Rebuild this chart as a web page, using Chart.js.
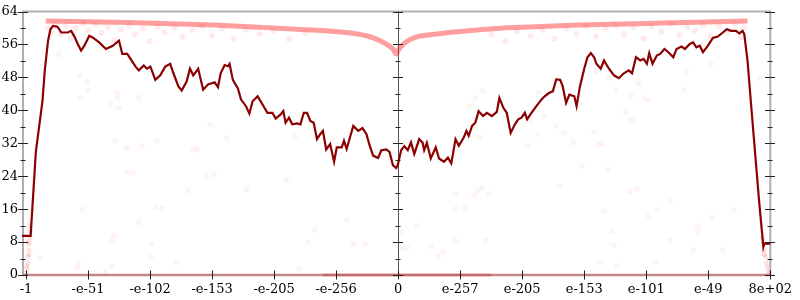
<!DOCTYPE html>
<html><head><meta charset="utf-8">
<script src="https://cdn.jsdelivr.net/npm/chart.js@4.4.0/dist/chart.umd.min.js"></script>
<style>html,body{margin:0;padding:0;background:#fff}canvas{display:block}</style>
</head><body>
<canvas id="c" width="800" height="300"></canvas>
<script>
// tick labels of the x axis (12 equal intervals)
const xTickLabels = ['-1','-e-51','-e-102','-e-153','-e-205','-e-256','0','e-257','e-205','e-153','e-101','e-49','8e+02'];
const xSpan = 752;

// main (dark red) line: [x position, value]
const mainLine = [
[-4,9.5],[4.7,9.5],[10,30],[16.7,42.3],[19,49.7],[22.3,56.9],[24.7,59.7],[27.3,60.5],[31.7,60.3],[35.7,58.9],[42.3,58.9],[45.7,59.3],[49,57.9],[52.3,56.1],[55.7,54.5],[59,55.7],[64,58.1],[67.3,57.7],[74,56.5],[80.7,54.9],[87.3,55.6],[94,56.9],[97.3,53.7],[102.3,53.7],[105.7,52.5],[110.7,50.6],[114,49.7],[119,50.9],[122.3,50.1],[125.7,50.6],[130.7,47.4],[135.7,48.5],[140.7,50.6],[145.7,51.3],[149,49],[154,45.8],[157.3,44.8],[162.3,47],[165.7,50.1],[169,48.5],[174,50.1],[179,45],[184,46.3],[190.7,46.8],[194,45.6],[196.7,49],[200.7,51],[204,50.7],[205.7,51.3],[209,47.4],[214,45.4],[217.3,42.6],[222.3,41],[225.7,39.2],[229,42.2],[234,43.4],[239,41.4],[244,39.4],[249,39.4],[252.3,38],[257.3,39],[260,39.8],[262.3,37],[265.7,38.2],[269,36.6],[274,36.8],[277.3,36.6],[280.7,39.4],[284,39.4],[287.3,37.4],[290.7,37],[294,33],[297.3,34.2],[300,35],[303.3,30.5],[307.3,31.8],[311.3,27.5],[314,31],[319,31],[321.3,32.6],[324,30.6],[327.3,33.4],[330.7,36.2],[335.7,35],[340,35.7],[344,34.2],[347.3,31.4],[350.7,29],[355.7,28.4],[359,30.3],[364,30.5],[367.3,29.9],[370.7,26.7],[374,26],[375.7,26.7],[379,30.3],[382.3,31.3],[385.7,30.3],[389,32.2],[392.3,29.4],[397.3,33],[400.7,32.2],[402.3,30.3],[405,32.1],[409,28.3],[414,31],[417.3,28.3],[422.3,27.5],[426.3,28.5],[429.7,27.1],[434,33],[437.3,31.4],[442.3,33.4],[445,35],[447.3,33.8],[450.7,36.2],[454,37],[457.3,39.8],[461.7,38.6],[465.7,39.4],[470.7,38.6],[475.7,39.6],[478.3,43],[482.3,40.6],[485.7,39.4],[489.7,34.5],[494,36.6],[497.3,37.8],[500.7,38.2],[504,39.4],[506.3,37.8],[510.7,39.4],[515.7,41],[520.7,42.6],[524,43.4],[528.3,44.2],[532.3,44.6],[535.7,47.5],[539.7,47.4],[542.3,45.8],[545.7,41.8],[549,43.8],[554,43.4],[556.3,41],[559.7,45.8],[564,50.1],[567.3,52.9],[570.7,53.9],[574,52.9],[576.3,51.3],[580.7,50.1],[584,52.1],[589,50.1],[594,48.5],[599,47.8],[604,49],[609,49.7],[612.3,49],[616.3,52.9],[620.7,52.1],[624,52.5],[627.3,51.3],[629.7,53.9],[633,51.3],[637.3,53.3],[640.7,53.7],[645,54.9],[649,54.1],[654,52.9],[657.3,54.9],[662.3,55.5],[665.7,54.9],[670.7,56.1],[674,56.5],[677.3,55.3],[680.7,55.7],[684,54.1],[689,55.7],[694,57.6],[699,57.9],[704,58.9],[708,59.7],[712.3,59.3],[717.3,59.3],[720.7,58.7],[724,59.3],[725.7,58.5],[729,52.1],[732.3,42.2],[740.7,17.9],[745,6.8],[746,7.6],[752,7.6]
];

// dense band of points near the top
const bandLine = [
[20,61.7],[104,61.3],[189,60.7],[234,60.2],[274,59.7],[324,58.9],[344,58.1],[354,57.3],[364,56.1],[370.7,54.9],[374,53.7],[377,54.9],[384,56.6],[394,57.8],[414,58.5],[441,59.2],[474,59.9],[514,60.3],[559,60.7],[644,61.2],[729,61.7]
];

// fuzz just under the band
const fuzzPoints = [
[22,60],[26,59],[30,61],[35,58.5],[40,60.5],[45,57.5],[50,60],[58,61],[63,59.5],[70,60.8],[76,58.8],[83,60.2],[90,57],[96,59.6],[104,60.6],[110,58.4],[118,59.9],[125,56.8],[133,60.3],[140,58.9],[150,60.1],[158,57.9],[168,59.5],[178,60.3],[188,58.2],[198,59.8],[210,57.4],[222,59.6],[236,58.6],[250,59.2],[266,57.2],[282,58.8],
[470,58.4],[484,56.8],[496,59.2],[510,58.1],[522,59.5],[534,57.4],[546,59.9],[556,58.6],[566,60.3],[576,57.9],[586,59.8],[596,60.6],[604,58.4],[614,60.1],[624,57.5],[632,60.4],[642,59.1],[652,61],[660,58.3],[668,60.2],[676,59.3],[684,60.7],[692,58],[700,60.4],[708,59],[716,61],[722,57.8],[726,60.2]
];

// sparse scattered points
const scatterPoints = [
[92,44.2],[114,43.2],[94,40.6],[90,32.5],[102,30.8],[117,31.3],[132,32.5],[169,30.3],[173,30.6],[186,36.5],[203,33.2],[102,25.1],[108,24.8],[182,24.1],[190,24.4],[164,20.5],[223,20.8],[263,23.2],[272,33.7],
[454,43],[448,41.1],[461,44.7],[518,44.4],[510,37.5],[458,33.4],[524,38.7],[536,36.1],[517,34.1],[544,34.4],[574,34.6],[606,39.6],[582,32],[578,31.5],[596,44.7],[612,37.7],[553,32.2],[507,31.5],[456,20.3],[460,21],[453,19.3],[468,19.6],[434,19.6],[539,21.5],[562,26.5],[588,25.6],[610,20.3],[617,20.8],
[324,13.4],[292,11],[285,7.9],[331,7.6],[343,7.4],[379,10.3],[395,11.9],[380,6.4],[385,6.7],[409,6.9],[422,5.7],[417,4.5],[434,8.4],[464,8.4],[435,16.2],[444,16.2],[276,1.4],
[57,16],[132,16.5],[138,16.2],[87,2.1],[53,2.9],[52,1.7],[89,9.6],[87,8.4],[14,4.1],[126,4.3],[152,3.1],[127,7.6],[114,12.7],[80,0.7],
[651,17.9],[629,14.3],[592,10.7],[594,7.2],[636,3.1],[679,11.9],[650,8.4],[637,15.8],[584,15.5],[580,2.9],[597,2.1],[674,6],[715,15.8],[744,16.5],[693,13.9],[704,6],[679,10.5],
[33,53.5],[54,48.5],[62,44.9],[55,43],[92,43],[85,41.8],[62,46.8],
[692,51.3],[667,49.4],[665,44.9],[619,46.6],[624,43],[589,47.8],[576,49.4],[611,43.7],[629,42.5],[684,56.1],[742,47.8]
];

// smears at both ends, near zero
const edgePoints = [
[0,0.5],[1,1.5],[2,3],[2,4.5],[3,6],[3,7.5],[4,9],[5,10.5],[4,12],[1,2.2],[3,5],[2,8],
[744,9],[745,7.5],[746,6],[747,4.5],[748,3],[749,2],[750,1],[751,0.5],[746,5],[745,8.2]
];

// points lying on zero
const zeroLine = [[-3,0],[752,0]];
const zeroCore = [[300,0],[470,0]];

const pts = a => a.map(([x,y]) => ({x, y}));

const axesPlugin = {
  id: 'axesDeco',
  beforeDatasetsDraw(chart) {
    const {ctx, chartArea: a, scales: {x}} = chart;
    ctx.save();
    ctx.strokeStyle = '#b0b0b0';
    ctx.lineWidth = 2;
    ctx.strokeRect(a.left, a.top, a.right - a.left, a.bottom - a.top);
    const xc = Math.round(x.getPixelForValue(xSpan / 2)) + 0.5;
    ctx.strokeStyle = '#555';
    ctx.lineWidth = 1;
    ctx.beginPath(); ctx.moveTo(xc, a.top); ctx.lineTo(xc, a.bottom); ctx.stroke();
    ctx.restore();
  },
  afterDatasetsDraw(chart) {
    const {ctx, chartArea: a, scales: {x, y}} = chart;
    ctx.save();
    ctx.strokeStyle = '#222';
    ctx.lineWidth = 1;
    const xc = Math.round(x.getPixelForValue(xSpan / 2));
    const cols = [Math.round(a.left), xc, Math.round(a.right)];
    ctx.beginPath();
    for (let v = 0; v <= 64; v += 4) {
      const yp = Math.round(y.getPixelForValue(v)) + 0.5;
      const len = v % 8 === 0 ? 5 : 2.5;
      cols.forEach(cx => { ctx.moveTo(cx - len, yp); ctx.lineTo(cx + len, yp); });
    }
    xTickLabels.forEach((_, i) => {
      const xp = Math.round(x.getPixelForValue(i * xSpan / 12)) + 0.5;
      ctx.moveTo(xp, a.bottom - 4.5); ctx.lineTo(xp, a.bottom + 4.5);
    });
    ctx.stroke();
    ctx.restore();
  }
};

const font = {family: 'DejaVu Serif', size: 13, lineHeight: 1};

new Chart(document.getElementById('c'), {
  type: 'scatter',
  data: {
    datasets: [
      {data: pts(mainLine), showLine: true, borderColor: '#8b0000', borderWidth: 2.2, pointRadius: 0, tension: 0, order: 0, clip: false},
      {data: pts(bandLine), showLine: true, borderColor: 'rgba(255,40,40,0.45)', borderWidth: 5, pointRadius: 0, tension: 0.3, cubicInterpolationMode: 'monotone', order: 5},
      {data: pts(fuzzPoints), pointRadius: 3, pointBackgroundColor: 'rgba(255,60,60,0.1)', pointBorderWidth: 0, order: 6},
      {data: pts(scatterPoints), pointRadius: 3, pointBackgroundColor: 'rgba(255,60,60,0.06)', pointBorderWidth: 0, order: 6},
      {data: pts(edgePoints), pointRadius: 2.5, pointBackgroundColor: 'rgba(255,60,60,0.15)', pointBorderWidth: 0, order: 6, clip: false},
      {data: pts(zeroLine), showLine: true, borderColor: 'rgba(215,50,50,0.3)', borderWidth: 3, pointRadius: 0, order: 4, clip: false},
      {data: pts(zeroCore), showLine: true, borderColor: 'rgba(200,30,30,0.3)', borderWidth: 3, pointRadius: 0, order: 4, clip: false}
    ]
  },
  options: {
    responsive: false,
    animation: false,
    devicePixelRatio: 1,
    layout: {padding: {left: 0, right: 22, top: 7, bottom: 0}},
    plugins: {legend: {display: false}, tooltip: {enabled: false}},
    elements: {point: {hoverRadius: 0}},
    scales: {
      x: {
        type: 'linear', min: -3, max: xSpan,
        grid: {display: false, drawTicks: false},
        border: {display: false},
        afterFit: s => { s.height = 25; },
        afterBuildTicks: s => { s.ticks = xTickLabels.map((_, i) => ({value: i * xSpan / 12})); },
        ticks: {autoSkip: false, maxRotation: 0, padding: 8, color: '#000', font,
          callback: (v, i) => xTickLabels[i]}
      },
      y: {
        min: 0, max: 64,
        grid: {display: false, drawTicks: false},
        border: {display: false},
        afterFit: s => { s.width = 23; },
        ticks: {stepSize: 8, padding: 5, color: '#000', font}
      }
    }
  },
  plugins: [axesPlugin]
});
</script>
</body></html>
